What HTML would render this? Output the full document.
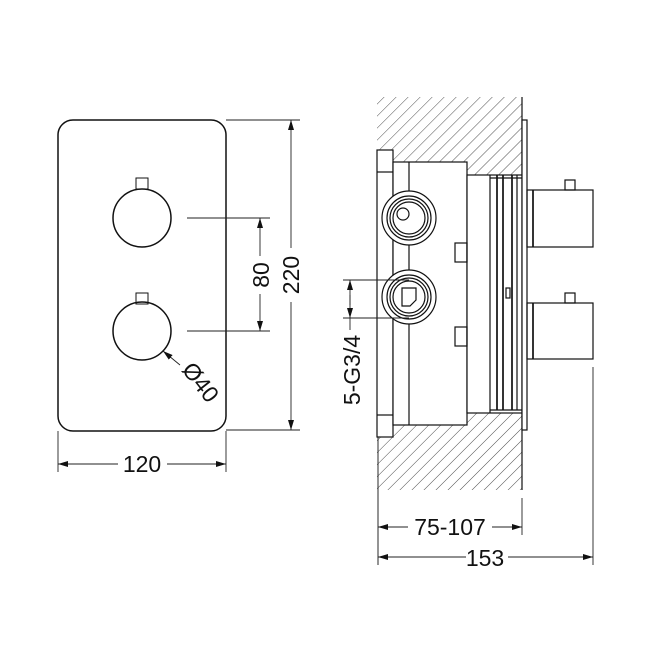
<!DOCTYPE html>
<html><head><style>html,body{margin:0;padding:0;background:#fff}svg{display:block}</style></head><body>
<svg width="650" height="650" viewBox="0 0 650 650" xmlns="http://www.w3.org/2000/svg" font-family="Liberation Sans, sans-serif">
<defs>
<pattern id="h" patternUnits="userSpaceOnUse" width="8.5" height="8.5" patternTransform="rotate(45)">
<line x1="0" y1="0" x2="0" y2="8.5" stroke="#222" stroke-width="0.8"/>
</pattern>
<marker id="a" viewBox="0 0 10 6" refX="10" refY="3" markerWidth="10" markerHeight="6" orient="auto-start-reverse" markerUnits="userSpaceOnUse"><path d="M0,0L10,3L0,6z" fill="#111"/></marker>
</defs>
<g fill="none" stroke="#111" stroke-width="1.5">
<rect x="58" y="120" width="168" height="311" rx="15"/>
<circle cx="142" cy="218" r="29"/>
<circle cx="142" cy="331" r="29"/>
<rect x="136" y="178" width="12" height="11" stroke-width="1"/>
<rect x="136" y="293" width="12" height="11" stroke-width="1"/>
</g>
<g stroke="#222" stroke-width="0.9" fill="none">
<line x1="187" y1="218" x2="270" y2="218"/>
<line x1="187" y1="331" x2="270" y2="331"/>
<line x1="260" y1="218" x2="260" y2="256" marker-start="url(#a)"/>
<line x1="260" y1="294" x2="260" y2="331" marker-end="url(#a)"/>
<line x1="226" y1="120" x2="300" y2="120"/>
<line x1="226" y1="430" x2="300" y2="430"/>
<line x1="291" y1="120" x2="291" y2="248" marker-start="url(#a)"/>
<line x1="291" y1="302" x2="291" y2="430" marker-end="url(#a)"/>
<line x1="58" y1="431" x2="58" y2="472"/>
<line x1="226" y1="431" x2="226" y2="472"/>
<line x1="58" y1="464" x2="118" y2="464" marker-start="url(#a)"/>
<line x1="167" y1="464" x2="226" y2="464" marker-end="url(#a)"/>
<line x1="180" y1="365" x2="163" y2="351" marker-end="url(#a)"/>
</g>
<g font-size="23" fill="#111">
<text x="142" y="472" text-anchor="middle">120</text>
<text transform="translate(269,275) rotate(-90)" text-anchor="middle">80</text>
<text transform="translate(299,275) rotate(-90)" text-anchor="middle">220</text>
<text transform="translate(181,370) rotate(52)">Ø40</text>
<text transform="translate(360,370) rotate(-90)" text-anchor="middle">5-G3/4</text>
<text x="450" y="535" text-anchor="middle">75-107</text>
<text x="485" y="566" text-anchor="middle">153</text>
</g>
<path d="M377,97 H522 V490 H377 V437 H393 V425 H467 V413 H522 V175 H467 V162 H393 V150 H377 Z" fill="url(#h)"/>
<g fill="none" stroke="#111" stroke-width="1.2">
<line x1="522" y1="97" x2="522" y2="490"/>
<line x1="378" y1="150" x2="378" y2="565" stroke-width="0.9"/>
<rect x="377" y="150" width="16" height="287" fill="#fff"/>
<rect x="393" y="162" width="74" height="263" fill="#fff"/>
<line x1="377" y1="172" x2="393" y2="172"/>
<line x1="377" y1="415" x2="393" y2="415"/>
<line x1="409" y1="162" x2="409" y2="425"/>
<rect x="467" y="175" width="55" height="238" fill="#fff"/>
<line x1="490" y1="175" x2="490" y2="413"/>
<line x1="497" y1="175" x2="497" y2="410" stroke-width="1.7"/>
<line x1="503" y1="175" x2="503" y2="410" stroke-width="1.7"/>
<line x1="512" y1="175" x2="512" y2="410" stroke-width="1.7"/>
<line x1="517" y1="175" x2="517" y2="410"/>
<line x1="490" y1="178" x2="522" y2="178"/>
<line x1="490" y1="410" x2="522" y2="410"/>
<rect x="506" y="288" width="4" height="10"/>
<rect x="522" y="120" width="5" height="310" fill="#fff"/>
<rect x="455" y="243" width="12" height="19"/>
<rect x="455" y="327" width="12" height="19"/>
<circle cx="409" cy="218" r="27" fill="#fff"/>
<circle cx="409" cy="218" r="22"/><circle cx="409" cy="218" r="19"/><circle cx="409" cy="218" r="16"/>
<rect x="397" y="208" width="12" height="12" rx="6"/>
<circle cx="409" cy="297" r="27" fill="#fff"/>
<circle cx="409" cy="297" r="22"/><circle cx="409" cy="297" r="19"/><circle cx="409" cy="297" r="16"/>
<path d="M402,288 H416 L416,300 L410,306 H402 Z"/>
<rect x="527" y="190" width="66" height="57"/>
<line x1="533" y1="190" x2="533" y2="247" stroke-width="1.7"/>
<rect x="565" y="180" width="10" height="10"/>
<rect x="527" y="303" width="66" height="56"/>
<line x1="533" y1="303" x2="533" y2="359" stroke-width="1.7"/>
<rect x="565" y="293" width="10" height="10"/>
</g>
<g stroke="#222" stroke-width="0.9" fill="none">
<line x1="343" y1="280" x2="409" y2="280"/>
<line x1="343" y1="318" x2="409" y2="318"/>
<line x1="350" y1="280" x2="350" y2="305" marker-start="url(#a)"/>
<line x1="350" y1="295" x2="350" y2="318" marker-end="url(#a)"/>
<line x1="350" y1="318" x2="350" y2="330"/>
<line x1="522" y1="498" x2="522" y2="535"/>
<line x1="593" y1="367" x2="593" y2="565"/>
<line x1="378" y1="527" x2="408" y2="527" marker-start="url(#a)"/>
<line x1="492" y1="527" x2="522" y2="527" marker-end="url(#a)"/>
<line x1="378" y1="557" x2="466" y2="557" marker-start="url(#a)"/>
<line x1="508" y1="557" x2="593" y2="557" marker-end="url(#a)"/>
</g>
</svg>
</body></html>
